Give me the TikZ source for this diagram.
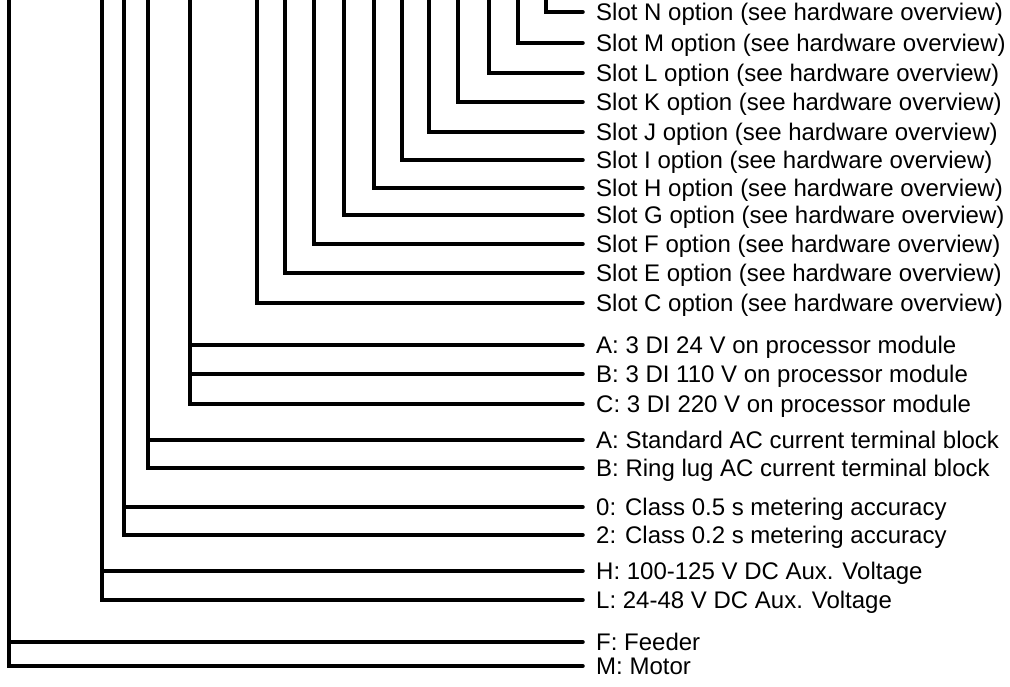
\documentclass[tikz,border=0pt]{standalone}
\usepackage{fontspec}
\setmainfont{Liberation Sans}
\begin{document}
\begin{tikzpicture}[x=1pt,y=-1pt,
  wire/.style={line width=3.5pt,line cap=round,line join=miter},
  lab/.style={anchor=west,inner sep=0pt,text height=17.2pt,text depth=0pt,font=\fontsize{24}{28}\selectfont},
  gap/.style={xshift=-13pt}]
\useasboundingbox (0,0) rectangle (1010,686);
\clip (0,0) rectangle (1010,686);
% labels
\node[lab] (lN) at (596,12) {Slot N option (see hardware overview)};
\node[lab] (lM) at (596,43) {Slot M option (see hardware overview)};
\node[lab] (lL) at (596,73) {Slot L option (see hardware overview)};
\node[lab] (lK) at (596,102) {Slot K option (see hardware overview)};
\node[lab] (lJ) at (596,132) {Slot J option (see hardware overview)};
\node[lab] (lI) at (596,160) {Slot I option (see hardware overview)};
\node[lab] (lH) at (596,188) {Slot H option (see hardware overview)};
\node[lab] (lG) at (596,215) {Slot G option (see hardware overview)};
\node[lab] (lF) at (596,244) {Slot F option (see hardware overview)};
\node[lab] (lE) at (596,273) {Slot E option (see hardware overview)};
\node[lab] (lC) at (596,303) {Slot C option (see hardware overview)};
\node[lab] (lDa) at (596,345) {A: 3 DI 24 V on processor module};
\node[lab] (lDb) at (596,374) {B: 3 DI 110 V on processor module};
\node[lab] (lDc) at (596,404) {C: 3 DI 220 V on processor module};
\node[lab] (lTa) at (596,440) {A: Standard AC current terminal block};
\node[lab] (lTb) at (596,468) {B: Ring lug AC current terminal block};
\node[lab] (lAa) at (596,507) {0: Class 0.5 s metering accuracy};
\node[lab] (lAb) at (596,535) {2: Class 0.2 s metering accuracy};
\node[lab] (lVa) at (596,571) {H: 100-125 V DC Aux. Voltage};
\node[lab] (lVb) at (596,600) {L: 24-48 V DC Aux. Voltage};
\node[lab] (lPa) at (596,642) {F: Feeder};
\node[lab] (lPb) at (596,666) {M: Motor};
% top ends of the vertical lines
\coordinate (tN) at (546,-5);
\coordinate (tM) at (518,-5);
\coordinate (tL) at (489,-5);
\coordinate (tK) at (458,-5);
\coordinate (tJ) at (429,-5);
\coordinate (tI) at (402,-5);
\coordinate (tH) at (374,-5);
\coordinate (tG) at (344,-5);
\coordinate (tF) at (314,-5);
\coordinate (tE) at (285,-5);
\coordinate (tC) at (257,-5);
\coordinate (tD) at (190,-5);
\coordinate (tT) at (148,-5);
\coordinate (tA) at (124,-5);
\coordinate (tV) at (102,-5);
\coordinate (tP) at (9,-5);
% connectors
\foreach \s in {N,M,L,K,J,I,H,G,F,E,C}{
  \draw[wire] (t\s) |- ([gap]l\s.west);
}
\draw[wire] (tD) |- ([gap]lDc.west);
\draw[wire] (tD |- lDa.west) -- ([gap]lDa.west);
\draw[wire] (tD |- lDb.west) -- ([gap]lDb.west);
\draw[wire] (tT) |- ([gap]lTb.west);
\draw[wire] (tT |- lTa.west) -- ([gap]lTa.west);
\draw[wire] (tA) |- ([gap]lAb.west);
\draw[wire] (tA |- lAa.west) -- ([gap]lAa.west);
\draw[wire] (tV) |- ([gap]lVb.west);
\draw[wire] (tV |- lVa.west) -- ([gap]lVa.west);
\draw[wire] (tP) |- ([gap]lPb.west);
\draw[wire] (tP |- lPa.west) -- ([gap]lPa.west);
\end{tikzpicture}
\end{document}
